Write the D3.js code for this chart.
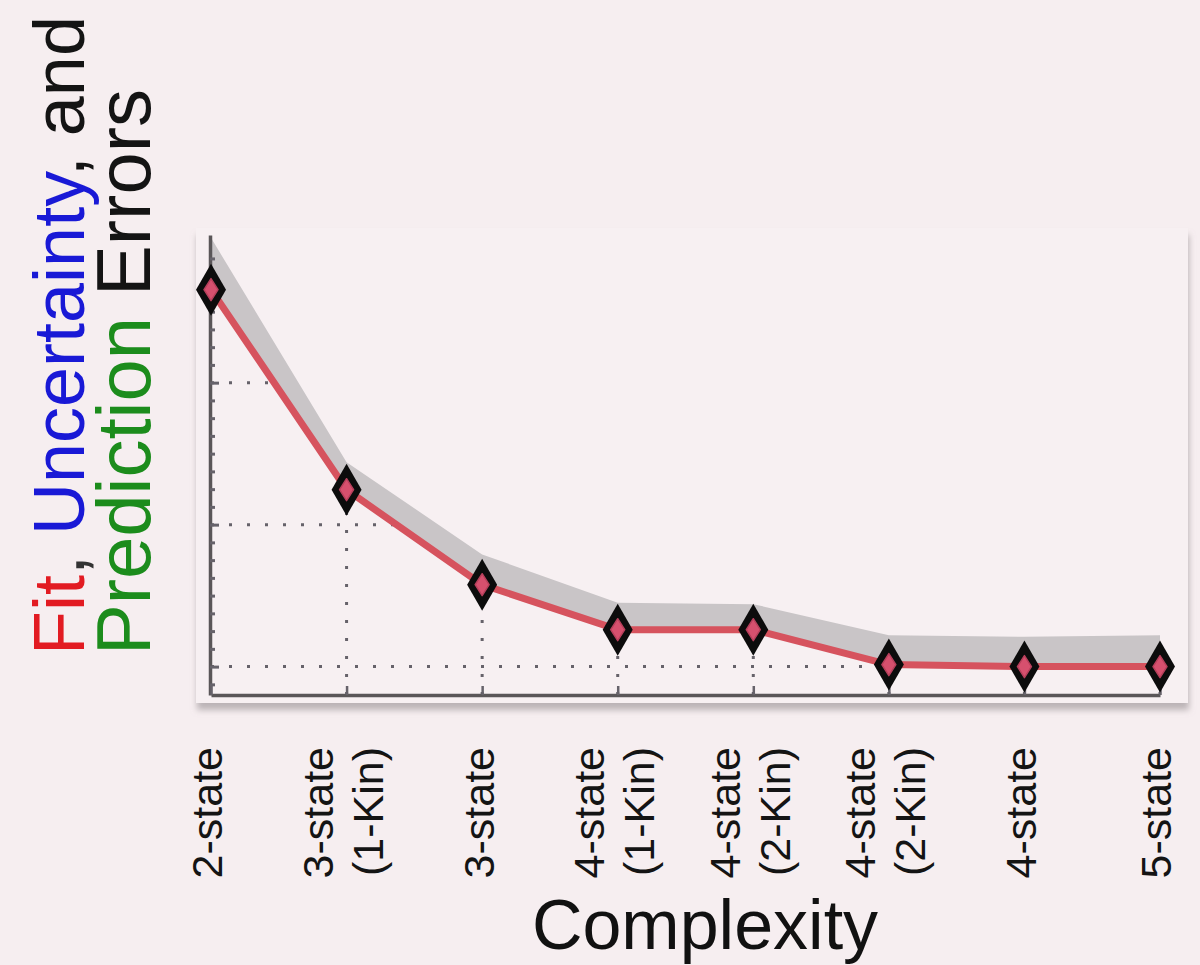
<!DOCTYPE html>
<html>
<head>
<meta charset="utf-8">
<script src="https://cdn.jsdelivr.net/npm/d3@7"></script>
<style>
  html, body { margin: 0; padding: 0; background: #f6eef0; }
  svg { display: block; }
</style>
</head>
<body>
<svg width="1200" height="965"></svg>
<script>
// x categories (tick labels, one entry per line)
const categories = [
  ["2-state"],
  ["3-state", "(1-Kin)"],
  ["3-state"],
  ["4-state", "(1-Kin)"],
  ["4-state", "(2-Kin)"],
  ["4-state", "(2-Kin)"],
  ["4-state"],
  ["5-state"]
];
// fit error (red line) and upper edge of the uncertainty band (grey)
const fitError = [3.655, 2.246, 1.577, 1.26, 1.26, 1.014, 1.0, 1.0];
const upperError = [4.02, 2.44, 1.79, 1.45, 1.44, 1.22, 1.21, 1.22];
const gridValues = [1, 2, 3];
const minorTickValues = [0.875, 1.125, 1.25, 1.375, 1.5, 1.625, 1.75, 1.875,
  2.125, 2.25, 2.375, 2.5, 2.625, 2.75, 2.875, 3.125, 3.25, 3.375, 3.5, 3.625, 3.75, 3.875];

const svg = d3.select('svg');
const font = '"Liberation Sans", Arial, Helvetica, sans-serif';

var x = d3.scaleLinear().domain([0, categories.length - 1]).range([211, 1160]);
var y = d3.scaleLinear().domain([0.8, 4.04]).range([695, 235]);

const pts = fitError.map((v, i) => ({i: i, fit: v, up: upperError[i]}));

// panel with a soft shadow along its lower edge
var defs = svg.append('defs');
var shadow = defs.append('filter').attr('id', 'shadow')
  .attr('x', '-5%').attr('y', '-5%').attr('width', '110%').attr('height', '115%');
shadow.append('feDropShadow')
  .attr('dx', 1).attr('dy', 7).attr('stdDeviation', 3)
  .attr('flood-color', '#948e90').attr('flood-opacity', 0.6);

svg.append('rect')
  .attr('x', 196).attr('y', 228)
  .attr('width', 992).attr('height', 475)
  .attr('fill', '#f7f0f2')
  .attr('filter', 'url(#shadow)');

// clip grid lines to the region under the fit line
var under = d3.area()
  .x(d => x(d.i))
  .y0(y(0.8))
  .y1(d => y(d.fit));
defs.append('clipPath').attr('id', 'under')
  .append('path').attr('d', under(pts));

var grid = svg.append('g')
  .attr('clip-path', 'url(#under)')
  .attr('stroke', '#66626a')
  .attr('stroke-width', 3)
  .attr('stroke-dasharray', '3,15');

grid.selectAll('.hgrid')
  .data(gridValues)
  .enter()
  .append('line')
  .attr('x1', x(0)).attr('x2', x(categories.length - 1))
  .attr('y1', d => y(d)).attr('y2', d => y(d));

grid.selectAll('.vgrid')
  .data(pts.slice(1))
  .enter()
  .append('line')
  .attr('x1', d => x(d.i)).attr('x2', d => x(d.i))
  .attr('y1', y(0.8)).attr('y2', d => y(d.fit));

// uncertainty band
var band = d3.area()
  .x(d => x(d.i))
  .y0(d => y(d.fit))
  .y1(d => y(d.up));
svg.append('path')
  .attr('d', band(pts))
  .attr('fill', '#c9c5c7');

// fit line
var line = d3.line()
  .x(d => x(d.i))
  .y(d => y(d.fit));
svg.append('path')
  .attr('d', line(pts))
  .attr('fill', 'none')
  .attr('stroke', '#d6535e')
  .attr('stroke-width', 7)
  .attr('stroke-linejoin', 'round');

// axes
var leftAxis = svg.append('g')
  .attr('transform', 'translate(210,0)')
  .call(d3.axisRight(y).tickValues(minorTickValues.concat(gridValues)).tickSize(6).tickSizeOuter(0).tickFormat(''));
leftAxis.selectAll('.tick line')
  .attr('stroke', '#66626a').attr('stroke-width', 3)
  .attr('x2', d => gridValues.includes(d) ? 9 : 5);
leftAxis.select('.domain')
  .attr('stroke', '#5a5658').attr('stroke-width', 3.5);

var bottomAxis = svg.append('g')
  .attr('transform', 'translate(0,695)')
  .call(d3.axisTop(x).tickValues(d3.range(categories.length)).tickSize(9).tickSizeOuter(0).tickFormat(''));
bottomAxis.selectAll('.tick line')
  .attr('stroke', '#66626a').attr('stroke-width', 2.5);
bottomAxis.select('.domain')
  .attr('stroke', '#5a5658').attr('stroke-width', 3.5);

// diamond markers: black outer diamond with a pink core
var markers = svg.selectAll('.marker')
  .data(pts)
  .enter()
  .append('g')
  .attr('class', 'marker')
  .attr('transform', d => `translate(${x(d.i)},${y(d.fit)})`);
markers.append('path')
  .attr('d', 'M0,-26L15,0L0,26L-15,0Z')
  .attr('fill', '#0c0c0c');
markers.append('path')
  .attr('d', 'M0,-11L7,0L0,11L-7,0Z')
  .attr('fill', '#d6506e')
  .attr('stroke', '#b8405c')
  .attr('stroke-width', 1.5)
  .attr('stroke-linejoin', 'round');

// x tick labels (rotated)
var labelSize = 43, lineGap = 50;
var labels = svg.selectAll('.xlabel')
  .data(categories)
  .enter()
  .append('text')
  .attr('class', 'xlabel')
  .attr('transform', (d, i) => `translate(${x(i) - 4},747) rotate(-90)`)
  .attr('text-anchor', 'end')
  .attr('font-family', font)
  .attr('font-size', labelSize)
  .attr('fill', '#141414');

labels.selectAll('tspan')
  .data(d => d.map((t, k) => ({t: t, k: k, n: d.length})))
  .enter()
  .append('tspan')
  .attr('x', 0)
  .attr('y', d => labelSize * 0.36 + (d.k - (d.n - 1) / 2) * lineGap)
  .text(d => d.t);

// x title
svg.append('text')
  .attr('x', 705).attr('y', 949)
  .attr('text-anchor', 'middle')
  .attr('font-family', font)
  .attr('font-size', 70)
  .attr('fill', '#111')
  .text('Complexity');

// y title, two coloured lines
var titleLines = [
  [['Fit', '#e21b22'], [', ', '#333'], ['Uncertainty', '#1919d6'], [', and', '#141414']],
  [['Prediction', '#1c8c1c'], [' Errors', '#141414']]
];
var titleX = [84, 150];
var titleSize = [72, 76];
titleLines.forEach((parts, li) => {
  var t = svg.append('text')
    .attr('transform', `translate(${titleX[li]},655) rotate(-90)`)
    .attr('font-family', font)
    .attr('font-size', titleSize[li])
    .attr('xml:space', 'preserve');
  t.selectAll('tspan')
    .data(parts)
    .enter()
    .append('tspan')
    .attr('fill', d => d[1])
    .text(d => d[0]);
});
</script>
</body>
</html>
